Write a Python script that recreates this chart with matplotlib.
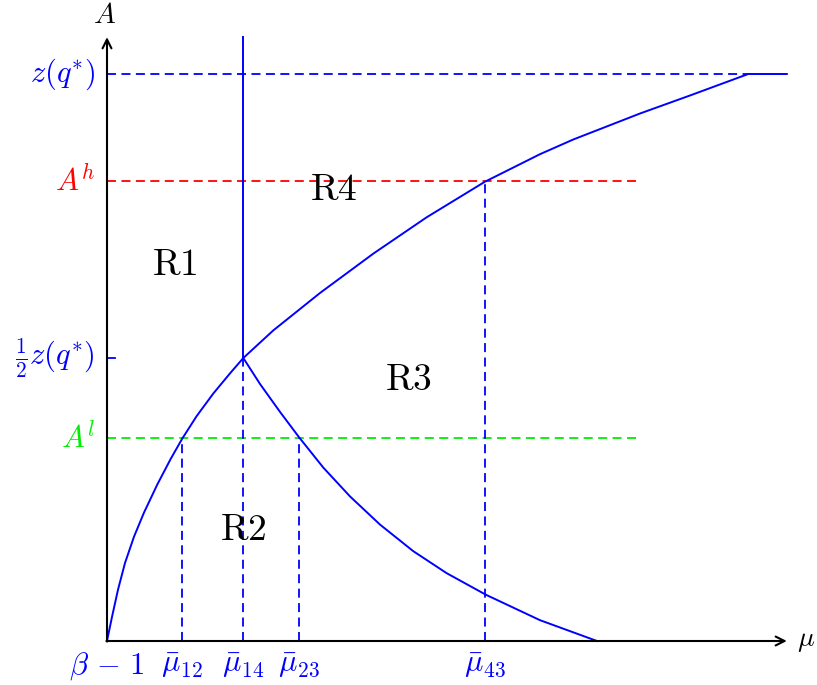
import matplotlib
matplotlib.use("Agg")
import matplotlib.pyplot as plt

plt.rcParams['mathtext.fontset'] = 'cm'

# ---- data (y in units of z(q*), x in same scale) ----
z_star = 1.0
half_z = 0.499
A_h = 0.811
A_l = 0.358
mu12 = 0.1328
mu14 = 0.2404
mu23 = 0.3392
mu43 = 0.6670
x_max = 1.199
y_max = 1.065
dash_end = 0.935

# increasing boundary curve (R1/R2 | R3/R4)
up_x = [0.0, 0.00882, 0.01940, 0.03175, 0.04762, 0.06526, 0.08871, 0.11235,
        0.13280, 0.15820, 0.18748, 0.21693, 0.24039, 0.2933, 0.3757, 0.4697,
        0.5638, 0.6667, 0.7637, 0.8224, 0.9400, 1.0282, 1.1310, 1.1990]
up_y = [0.0, 0.0425, 0.0905, 0.1376, 0.1840, 0.2265, 0.2760, 0.3212,
        0.3571, 0.3968, 0.4365, 0.4720, 0.4991, 0.5478, 0.6138, 0.6832,
        0.7473, 0.8101, 0.8586, 0.8845, 0.9303, 0.9621, 1.0000, 1.0000]

# decreasing boundary curve (R2 | R3)
down_x = [0.2404, 0.2698, 0.3051, 0.3392, 0.3815, 0.4286, 0.4815, 0.5402,
          0.5991, 0.6684, 0.7637, 0.8642]
down_y = [0.4991, 0.4534, 0.4041, 0.3587, 0.3058, 0.2550, 0.2053, 0.1584,
          0.1196, 0.0815, 0.0367, 0.0]

y_labels = [r'$z(q^{*})$', r'$\frac{1}{2}z(q^{*})$', r'$A^{h}$', r'$A^{l}$']
y_label_vals = [z_star, half_z, A_h, A_l]
y_label_colors = ['blue', 'blue', 'red', '#00ee00']

x_labels = [r'$\beta\,-\,1$', r'$\bar{\mu}_{12}$', r'$\bar{\mu}_{14}$',
            r'$\bar{\mu}_{23}$', r'$\bar{\mu}_{43}$']
x_label_vals = [0.0, mu12, mu14, mu23, mu43]

regions = ['R1', 'R2', 'R3', 'R4']
region_x = [0.120, 0.240, 0.531, 0.399]
region_y = [0.663, 0.196, 0.460, 0.795]

# ---- figure ----
fig = plt.figure(figsize=(8.17, 6.85), dpi=100)
ax = fig.add_axes([0, 0, 1, 1])
ax.set_xlim(-107 / 567, 710 / 567)
ax.set_ylim(-44 / 567, 641 / 567)
ax.axis('off')

lw = 1.3
dash = (0, (5, 3))

# horizontal dashed lines
ax.plot([0, up_x[-2]], [z_star, z_star], color='blue', lw=lw, linestyle=dash)
ax.plot([0, dash_end], [A_h, A_h], color='red', lw=lw, linestyle=dash)
ax.plot([0, dash_end], [A_l, A_l], color='#00ee00', lw=lw, linestyle=dash)

# vertical dashed lines
ax.plot([mu12, mu12], [0, A_l], color='blue', lw=lw, linestyle=dash)
ax.plot([mu14, mu14], [0, half_z], color='blue', lw=lw, linestyle=dash)
ax.plot([mu23, mu23], [0, A_l], color='blue', lw=lw, linestyle=dash)
ax.plot([mu43, mu43], [0, A_h], color='blue', lw=lw, linestyle=dash)

# boundary curves
ax.plot(up_x, up_y, color='blue', lw=1.4, solid_joinstyle='round')
ax.plot(down_x, down_y, color='blue', lw=1.4, solid_joinstyle='round')
ax.plot([mu14, mu14], [half_z, y_max], color='blue', lw=1.4)

# tick at half z
ax.plot([0, 0.014], [half_z, half_z], color='blue', lw=1.3)

# axes with arrows
arrow = dict(arrowstyle='->', lw=1.5, color='black', shrinkA=0, shrinkB=0,
             mutation_scale=16)
ax.annotate('', xy=(x_max, 0), xytext=(-0.001, 0), arrowprops=arrow)
ax.annotate('', xy=(0, y_max), xytext=(0, -0.001), arrowprops=arrow)

ax.text(-0.0035, 1.104, r'$A$', fontsize=21, ha='center', va='center')
ax.text(1.232, 0.002, r'$\mu$', fontsize=20, ha='center', va='center')

for lab, v, c in zip(y_labels, y_label_vals, y_label_colors):
    ax.text(-0.021, v, lab, color=c, fontsize=22, ha='right', va='center')

for lab, v in zip(x_labels, x_label_vals):
    ax.text(v, -0.044, lab, color='blue', fontsize=22, ha='center', va='center')

for lab, rx, ry in zip(regions, region_x, region_y):
    ax.text(rx, ry, r'$\mathrm{%s}$' % lab, fontsize=27, ha='center', va='center')

fig.savefig('out.png', dpi=100)
